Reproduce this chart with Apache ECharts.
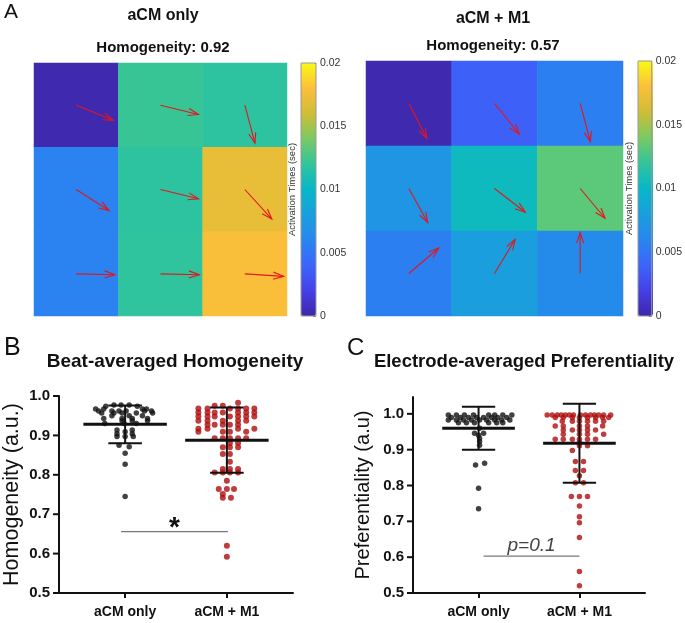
<!DOCTYPE html>
<html><head><meta charset="utf-8">
<script src="https://cdn.jsdelivr.net/npm/echarts@6/dist/echarts.min.js"></script>
<style>html,body{margin:0;padding:0;background:#fff}#c{width:685px;height:623px}</style>
</head><body><div id="c"></div>
<script>
// ---------- Panel A data ----------
const gridCols = ['c1', 'c2', 'c3'];
const gridRows = ['r1', 'r2', 'r3']; // top to bottom
const timesOnly = [
  [0.0002, 0.0122, 0.0118],
  [0.0058, 0.0118, 0.0171],
  [0.0058, 0.0119, 0.0179]
];
const timesM1 = [
  [0.0002, 0.0038, 0.0056],
  [0.0072, 0.0104, 0.0132],
  [0.0056, 0.0079, 0.0064]
];
// propagation vectors [dx, dy] in cell units (screen y downward)
const vecOnly = [
  [[0.44, 0.18], [0.45, 0.11], [0.12, 0.45]],
  [[0.39, 0.25], [0.45, 0.11], [0.32, 0.35]],
  [[0.46, 0.01], [0.46, 0.01], [0.46, 0.03]]
];
const vecM1 = [
  [[0.21, 0.41], [0.29, 0.36], [0.12, 0.45]],
  [[0.22, 0.40], [0.36, 0.28], [0.29, 0.35]],
  [[0.35, -0.30], [0.24, -0.40], [0.0, -0.48]]
];
const colorbarTicks = [0, 0.005, 0.01, 0.015, 0.02];
const parula = ['#3e26a8', '#4640e8', '#3c65fa', '#2886ef', '#199fdd', '#07b7c8',
  '#31c49c', '#79ca63', '#d0bd35', '#fcbf3a', '#f9fa14'];

// ---------- Panel B data (value, x-jitter list) ----------
const groups = ['aCM only', 'aCM + M1'];
const groupPos = [0.65, 1.65];
const homogOnly = [
  [0.977, [-0.11, -0.04, 0.04]], [0.974, [-0.19, 0.12]],
  [0.967, [-0.29, -0.21, 0.17, 0.21]], [0.962, [-0.26, -0.13, -0.06, 0.01, 0.19, 0.26]],
  [0.957, [-0.23, -0.11, -0.03, 0.11, 0.27]], [0.950, [-0.13, 0.04, 0.17]],
  [0.943, [-0.21, -0.03, 0.07, 0.22]], [0.937, [-0.03, 0.07, 0.22]],
  [0.930, [-0.20, -0.01, 0.11]], [0.914, [-0.08, 0.07]], [0.909, [0]],
  [0.904, [-0.08, 0.07]], [0.897, [-0.08, 0, 0.08]], [0.875, [-0.06]],
  [0.871, [0.04]], [0.855, [0]], [0.827, [0]], [0.745, [0]]
];
const homogM1 = [
  [0.983, [0.11]], [0.975, [-0.12, -0.04]],
  [0.968, [-0.28, -0.19, 0.03, 0.11, 0.19, 0.27]],
  [0.958, [-0.28, -0.19, -0.12, -0.04, 0.11, 0.19, 0.27]],
  [0.948, [-0.28, -0.19, -0.12, 0.03, 0.11, 0.19, 0.27]],
  [0.937, [-0.28, -0.19, -0.04, 0.11, 0.19]],
  [0.927, [-0.19, -0.12, -0.04, 0.03, 0.11]],
  [0.917, [-0.28, -0.19, 0.11, 0.27]], [0.909, [-0.28, -0.04, 0.03, 0.19]],
  [0.893, [-0.12, -0.04, 0.03, 0.11, 0.19]], [0.881, [0.03, 0.11]],
  [0.870, [-0.04, 0.03, 0.11]], [0.853, [-0.04, 0.03]], [0.833, [0.03]],
  [0.815, [-0.04, 0.03, 0.11]], [0.806, [-0.12, -0.04, 0.03, 0.11]],
  [0.785, [0]], [0.764, [-0.08, 0, 0.07]], [0.751, [-0.04]], [0.742, [-0.04, 0.04]],
  [0.620, [0]], [0.592, [0]]
];
const homogMean = [0.928, 0.888];
const homogSD = [0.048, 0.083];
const homogSig = [0.61, 1.66, 0.656];

// ---------- Panel C data ----------
const prefOnly = [
  [0.997, [-0.30, -0.22, -0.14, -0.05, 0.10, 0.16, 0.24, 0.33]],
  [0.990, [-0.27, -0.18, -0.10, -0.02, 0.05, 0.13, 0.19, 0.28]],
  [0.983, [-0.30, -0.22, -0.15, -0.07, 0.01, 0.08, 0.16, 0.23, 0.31]],
  [0.975, [-0.20, -0.12, -0.04, 0.10, 0.18, 0.24]],
  [0.960, [0.01]], [0.946, [-0.04, 0.05]], [0.940, [0]], [0.932, [0.01]],
  [0.923, [0.01]], [0.912, [0.01]], [0.862, [0.06]], [0.857, [-0.03]],
  [0.792, [0]], [0.735, [0]]
];
const prefM1 = [
  [0.997, [-0.32, -0.27, -0.22, -0.18, -0.14, -0.10, -0.06, 0.01, 0.06, 0.11, 0.15, 0.19, 0.24, 0.31]],
  [0.990, [-0.24, -0.16, -0.07, 0, 0.08, 0.16, 0.23, 0.29]],
  [0.979, [-0.17, -0.07, 0, 0.08, 0.16, 0.24]],
  [0.966, [-0.24, -0.16, 0, 0.08, 0.23]],
  [0.955, [-0.16, -0.07, 0, 0.08, 0.16]],
  [0.943, [-0.16, 0, 0.08, 0.24]],
  [0.929, [-0.24, -0.16, -0.07, 0, 0.08, 0.16]],
  [0.920, [0]], [0.911, [0, 0.08]], [0.898, [-0.07]],
  [0.867, [-0.04, 0.04]], [0.842, [-0.04, 0.04]], [0.827, [0]],
  [0.808, [-0.04, 0.04]], [0.769, [-0.08, 0, 0.08]], [0.743, [0]],
  [0.713, [0]], [0.696, [0]], [0.655, [0]], [0.560, [0]], [0.520, [0]]
];
const prefMean = [0.960, 0.918];
const prefSD = [0.060, 0.110];
const prefSig = [0.70, 1.65, 0.603];
const dotTicks = [0.5, 0.6, 0.7, 0.8, 0.9, 1.0];
const yRangeB = [0.5, 1.0];
const yRangeC = [0.5, 1.047];

// ---------- helpers ----------
const FONT = 'Arial, "Liberation Sans", sans-serif';
function heatData(m) {
  const out = [];
  m.forEach((row, r) => row.forEach((v, c) => out.push([c, r, v])));
  return out;
}
function vecData(m) {
  const out = [];
  m.forEach((row, r) => row.forEach((v, c) => out.push([c, r, v[0], v[1]])));
  return out;
}
function dots(rows, g) {
  const out = [];
  rows.forEach(([v, js]) => js.forEach(j => out.push([groupPos[g] + j, v])));
  return out;
}
function arrowItem(params, api) {
  const c = api.coord([api.value(0), api.value(1)]);
  const s = api.size([1, 1]);
  const x1 = c[0] + api.value(2) * s[0], y1 = c[1] + api.value(3) * s[1];
  const ang = Math.atan2(y1 - c[1], x1 - c[0]);
  const L = 11, a = 0.33;
  const h1 = [x1 - L * Math.cos(ang - a), y1 - L * Math.sin(ang - a)];
  const h2 = [x1 - L * Math.cos(ang + a), y1 - L * Math.sin(ang + a)];
  const st = { stroke: '#e3161d', lineWidth: 1.1, fill: null };
  return { type: 'group', children: [
    { type: 'line', shape: { x1: c[0], y1: c[1], x2: x1, y2: y1 }, style: st },
    { type: 'polyline', shape: { points: [h1, [x1, y1], h2] }, style: st }
  ] };
}
function errRenderer(halfMean) {
  return function (params, api) {
    const x = api.value(0), m = api.value(1), sd = api.value(2);
    const a = api.coord([x - halfMean, m]), b = api.coord([x + halfMean, m]);
    const t = api.coord([x, m + sd]), d = api.coord([x, m - sd]);
    const cw = api.size([0.165, 0])[0];
    const st = { stroke: '#111', lineWidth: 2, fill: null };
    return { type: 'group', children: [
      { type: 'line', shape: { x1: t[0], y1: t[1], x2: d[0], y2: d[1] }, style: st },
      { type: 'line', shape: { x1: t[0] - cw, y1: t[1], x2: t[0] + cw, y2: t[1] }, style: st },
      { type: 'line', shape: { x1: d[0] - cw, y1: d[1], x2: d[0] + cw, y2: d[1] }, style: st },
      { type: 'line', shape: { x1: a[0], y1: a[1], x2: b[0], y2: b[1] }, style: { stroke: '#111', lineWidth: 3 } }
    ] };
  };
}
function sigRenderer(label, font, dy) {
  return function (params, api) {
    const p0 = api.coord([api.value(0), api.value(2)]);
    const p1 = api.coord([api.value(1), api.value(2)]);
    return { type: 'group', children: [
      { type: 'line', shape: { x1: p0[0], y1: p0[1], x2: p1[0], y2: p1[1] }, style: { stroke: '#777', lineWidth: 1.3 } },
      { type: 'text', x: (p0[0] + p1[0]) / 2, y: p0[1] + dy,
        style: Object.assign({ text: label, textAlign: 'center', textVerticalAlign: 'bottom', fill: '#111', fontFamily: FONT }, font) }
    ] };
  };
}
// left value-axis spine with outward ticks, drawn through the axis scale
function spineRenderer(range) {
  return function (params, api) {
    const p0 = api.coord([0, range[0]]), p1 = api.coord([0, range[1]]);
    const st = { stroke: '#111', lineWidth: 2 };
    const kids = [{ type: 'line', shape: { x1: p0[0], y1: p0[1] + 1, x2: p1[0], y2: p1[1] }, style: st }];
    dotTicks.forEach(t => {
      const p = api.coord([0, t]);
      kids.push({ type: 'line', shape: { x1: p[0] - 6, y1: p[1], x2: p[0], y2: p[1] }, style: st });
    });
    return { type: 'group', children: kids };
  };
}
function heatX(gi) { return { type: 'category', gridIndex: gi, data: gridCols, show: false }; }
function heatY(gi) { return { type: 'category', gridIndex: gi, data: gridRows, inverse: true, show: false }; }
function cbX(gi) { return { type: 'value', gridIndex: gi, min: 0, max: 1, show: false }; }
function cbY(gi) {
  return { type: 'value', gridIndex: gi, position: 'right', min: 0, max: 0.02, interval: 0.005,
    axisLine: { show: false, onZero: false }, splitLine: { show: false },
    axisTick: { show: true, inside: true, length: 3, lineStyle: { color: '#777' } },
    axisLabel: { margin: 4, fontSize: 10.5, color: '#333', fontFamily: FONT,
      formatter: v => colorbarTicks.includes(+v.toFixed(3)) ? String(+v.toFixed(3)) : '' } };
}
function cbName(gi) {
  return { type: 'value', gridIndex: gi, position: 'left', min: 0, max: 0.02,
    axisLine: { show: false, onZero: false }, axisTick: { show: false }, axisLabel: { show: false }, splitLine: { show: false },
    name: 'Activation Times (sec)', nameLocation: 'middle', nameGap: 4,
    nameTextStyle: { fontSize: 9.5, color: '#333', fontFamily: FONT } };
}
function dotX(gi) {
  return { type: 'value', gridIndex: gi, min: 0, max: 2.3, splitLine: { show: false },
    axisLine: { show: true, lineStyle: { color: '#111', width: 2 } },
    axisTick: { show: true, customValues: groupPos, length: 5, lineStyle: { color: '#111', width: 2 } },
    axisLabel: { customValues: groupPos, formatter: v => groups[v < 1.15 ? 0 : 1], margin: 12,
      fontSize: 14, fontWeight: 'bold', color: '#111', fontFamily: FONT } };
}
function dotY(gi, range, name, gap, nameSize) {
  return { type: 'value', gridIndex: gi, min: range[0], max: range[1], interval: 0.1, splitLine: { show: false },
    axisLine: { show: true, lineStyle: { color: '#111', width: 2 } },
    axisTick: { show: false },
    axisLabel: { showMaxLabel: range[1] === 1.0, formatter: v => (v > 1.001 ? '' : v.toFixed(1)), margin: 9,
      fontSize: 15, fontWeight: 'bold', color: '#111', fontFamily: FONT },
    name: name, nameLocation: 'middle', nameGap: gap,
    nameTextStyle: { fontSize: nameSize, color: '#111', fontFamily: FONT } };
}
function titleAt(text, x, y, size, weight) {
  return { text: text, left: x, top: y, textAlign: 'center', padding: 0,
    textStyle: { fontSize: size, fontWeight: weight, color: '#111', fontFamily: FONT } };
}
function letterAt(text, x, y, size) {
  return { text: text, left: x, top: y, padding: 0,
    textStyle: { fontSize: size, fontWeight: 'normal', color: '#111', fontFamily: FONT } };
}

const option = {
  animation: false,
  backgroundColor: '#fff',
  title: [
    letterAt('A', 4, 2, 21),
    titleAt('aCM only', 163, 8, 16, 'bold'),
    titleAt('Homogeneity: 0.92', 163, 40, 15, 'bold'),
    titleAt('aCM + M1', 493, 11, 16, 'bold'),
    titleAt('Homogeneity: 0.57', 493, 38, 15, 'bold'),
    letterAt('B', 4, 336, 25),
    titleAt('Beat-averaged Homogeneity', 175, 352, 19, 'bold'),
    letterAt('C', 347, 336, 24),
    titleAt('Electrode-averaged Preferentiality', 524, 352, 18.5, 'bold')
  ],
  grid: [
    { left: 34, top: 63, width: 253, height: 253 },
    { left: 301, top: 63, width: 15, height: 253, show: true, borderColor: '#999', borderWidth: 1, backgroundColor: 'transparent', z: 10 },
    { left: 366, top: 61, width: 257, height: 255 },
    { left: 638, top: 61, width: 15, height: 255, show: true, borderColor: '#999', borderWidth: 1, backgroundColor: 'transparent', z: 10 },
    { left: 59, top: 396, width: 234, height: 197 },
    { left: 413, top: 397, width: 232, height: 196 }
  ],
  xAxis: [heatX(0), cbX(1), heatX(2), cbX(3), dotX(4), dotX(5)],
  yAxis: [heatY(0), cbY(1), cbName(1), heatY(2), cbY(3), cbName(3),
    dotY(4, yRangeB, 'Homogeneity (a.u.)', 36, 21.5), dotY(5, yRangeC, 'Preferentiality (a.u)', 40, 20)],
  visualMap: [
    { type: 'continuous', seriesIndex: 0, min: 0, max: 0.02, inRange: { color: parula },
      orient: 'vertical', left: 301, top: 63, itemWidth: 15, itemHeight: 253, padding: 0,
      calculable: false, text: null, hoverLink: false },
    { type: 'continuous', seriesIndex: 2, min: 0, max: 0.02, inRange: { color: parula },
      orient: 'vertical', left: 638, top: 61, itemWidth: 15, itemHeight: 255, padding: 0,
      calculable: false, text: null, hoverLink: false }
  ],
  series: [
    { type: 'heatmap', xAxisIndex: 0, yAxisIndex: 0, data: heatData(timesOnly), emphasis: { disabled: true } },
    { type: 'custom', xAxisIndex: 0, yAxisIndex: 0, data: vecData(vecOnly), renderItem: arrowItem, z: 5, silent: true },
    { type: 'heatmap', xAxisIndex: 2, yAxisIndex: 3, data: heatData(timesM1), emphasis: { disabled: true } },
    { type: 'custom', xAxisIndex: 2, yAxisIndex: 3, data: vecData(vecM1), renderItem: arrowItem, z: 5, silent: true },
    { type: 'scatter', xAxisIndex: 4, yAxisIndex: 6, data: dots(homogOnly, 0), symbolSize: 5.5, itemStyle: { color: '#111' } },
    { type: 'scatter', xAxisIndex: 4, yAxisIndex: 6, data: dots(homogM1, 1), symbolSize: 6, itemStyle: { color: '#b00c0c' } },
    { type: 'custom', xAxisIndex: 4, yAxisIndex: 6, data: groups.map((g, i) => [groupPos[i], homogMean[i], homogSD[i]]), renderItem: errRenderer(0.41), z: 6 },
    { type: 'custom', xAxisIndex: 4, yAxisIndex: 6, data: [homogSig], renderItem: sigRenderer('*', { fontSize: 28, fontWeight: 'bold' }, 11), z: 6 },
    { type: 'custom', xAxisIndex: 4, yAxisIndex: 6, data: [[0.05, 0.75]], renderItem: spineRenderer(yRangeB), z: 100, zlevel: 1, silent: true, clip: false },
    { type: 'scatter', xAxisIndex: 5, yAxisIndex: 7, data: dots(prefOnly, 0), symbolSize: 5.5, itemStyle: { color: '#111' } },
    { type: 'scatter', xAxisIndex: 5, yAxisIndex: 7, data: dots(prefM1, 1), symbolSize: 5.5, itemStyle: { color: '#b00c0c' } },
    { type: 'custom', xAxisIndex: 5, yAxisIndex: 7, data: groups.map((g, i) => [groupPos[i], prefMean[i], prefSD[i]]), renderItem: errRenderer(0.36), z: 6 },
    { type: 'custom', xAxisIndex: 5, yAxisIndex: 7, data: [prefSig], renderItem: sigRenderer('p=0.1', { fontSize: 19, fontStyle: 'italic', fill: '#444' }, -1), z: 6 },
    { type: 'custom', xAxisIndex: 5, yAxisIndex: 7, data: [[0.05, 0.75]], renderItem: spineRenderer(yRangeC), z: 100, zlevel: 1, silent: true, clip: false }
  ]
};
const chart = echarts.init(document.getElementById('c'), null, { renderer: 'canvas' });
chart.setOption(option);
</script>
</body></html>
